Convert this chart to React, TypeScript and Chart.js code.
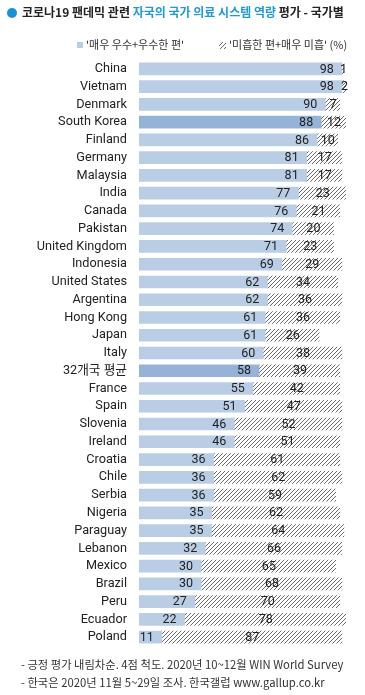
import React, { useEffect, useRef } from "react";
import { Chart, registerables } from "chart.js";
Chart.register(...registerables);

const categories = [
  "China", "Vietnam", "Denmark", "South Korea", "Finland", "Germany", "Malaysia", "India",
  "Canada", "Pakistan", "United Kingdom", "Indonesia", "United States", "Argentina", "Hong Kong",
  "Japan", "Italy", "32개국 평균", "France", "Spain", "Slovenia", "Ireland", "Croatia", "Chile",
  "Serbia", "Nigeria", "Paraguay", "Lebanon", "Mexico", "Brazil", "Peru", "Ecuador", "Poland",
];
const positive = [98, 98, 90, 88, 86, 81, 81, 77, 76, 74, 71, 69, 62, 62, 61, 61, 60, 58, 55, 51, 46, 46, 36, 36, 36, 35, 35, 32, 30, 30, 27, 22, 11];
const negative = [1, 2, 7, 12, 10, 17, 17, 23, 21, 20, 23, 29, 34, 36, 36, 26, 38, 39, 42, 47, 52, 51, 61, 62, 59, 62, 64, 66, 65, 68, 70, 78, 87];
const highlighted = ["South Korea", "32개국 평균"];

const seriesNames = ["'매우 우수+우수한 편'", "'미흡한 편+매우 미흡' (%)"];
const titleParts = ["코로나19 팬데믹 관련 ", "자국의 국가 의료 시스템 역량", " 평가 - 국가별"];
const notes = [
  "- 긍정 평가 내림차순. 4점 척도. 2020년 10~12월 WIN World Survey",
  "- 한국은 2020년 11월 5~29일 조사. 한국갤럽 www.gallup.co.kr",
];

const LIGHT = "#b9cde5";
const DARK = "#95b3d7";
const FONT = "Roboto, 'Noto Sans CJK KR', sans-serif";
const KFONT = "'Noto Sans CJK KR', sans-serif";

function makePattern(): CanvasPattern | string {
  const pc = document.createElement("canvas");
  pc.width = 4;
  pc.height = 4;
  const c = pc.getContext("2d");
  if (!c) return "#ccc";
  c.fillStyle = "#fff";
  c.fillRect(0, 0, 4, 4);
  c.strokeStyle = "#6a6a6a";
  c.lineWidth = 1;
  c.beginPath();
  c.moveTo(0, 4);
  c.lineTo(4, 0);
  c.moveTo(-1, 1);
  c.lineTo(1, -1);
  c.moveTo(3, 5);
  c.lineTo(5, 3);
  c.stroke();
  const p = c.createPattern(pc, "repeat");
  return p || "#ccc";
}

const labelPlugin = {
  id: "valueLabels",
  afterDatasetsDraw(chart: any) {
    const ctx = chart.ctx;
    ctx.save();
    ctx.font = `12.5px ${FONT}`;
    ctx.fillStyle = "#222";
    ctx.textBaseline = "middle";
    chart.data.datasets.forEach((ds: any, di: number) => {
      const meta = chart.getDatasetMeta(di);
      meta.data.forEach((el: any, i: number) => {
        const p = el.getProps(["x", "y", "base"], true);
        const v = ds.data[i];
        if (di === 0) {
          ctx.textAlign = "right";
          ctx.fillText(String(v), p.x - 8, p.y + 0.5);
        } else {
          ctx.textAlign = "center";
          ctx.fillText(String(v), (p.x + p.base) / 2 + 0.5, p.y + 0.5);
        }
      });
    });
    ctx.restore();
  },
};

export default function App() {
  const ref = useRef<HTMLCanvasElement>(null);
  const iconRef = useRef<HTMLCanvasElement>(null);

  useEffect(() => {
    if (!ref.current) return;
    const pattern = makePattern();
    if (iconRef.current) {
      const ic = iconRef.current.getContext("2d");
      if (ic) {
        ic.fillStyle = pattern as any;
        ic.fillRect(0, 0, 7, 7);
      }
    }
    const chart = new Chart(ref.current, {
      type: "bar",
      data: {
        labels: categories,
        datasets: [
          {
            label: seriesNames[0],
            data: positive,
            backgroundColor: categories.map((c) => (highlighted.includes(c) ? DARK : LIGHT)),
            barThickness: 12,
          },
          {
            label: seriesNames[1],
            data: negative,
            backgroundColor: pattern as any,
            barThickness: 12,
          },
        ],
      },
      options: {
        indexAxis: "y",
        responsive: false,
        animation: false,
        devicePixelRatio: 1,
        layout: { padding: { top: 60, bottom: 49, left: 0, right: 19 } },
        scales: {
          x: { stacked: true, min: 0, max: 100, display: false },
          y: {
            stacked: true,
            grid: { display: false, drawTicks: false },
            border: { display: false },
            ticks: {
              autoSkip: false,
              padding: 12,
              color: "#222",
              font: { family: FONT, size: 12.7 },
            },
            afterFit: (s: any) => {
              s.width = 139;
            },
          },
        },
        plugins: {
          legend: { display: false },
          tooltip: { enabled: false },
        },
      },
      plugins: [labelPlugin],
    });
    return () => chart.destroy();
  }, []);

  return (
    <div
      style={{
        position: "absolute",
        left: 0,
        top: 0,
        width: 365,
        height: 695,
        background: "#fff",
        fontFamily: KFONT,
        color: "#222",
      }}
    >
      <canvas ref={ref} width={365} height={695} style={{ position: "absolute", left: 0, top: 0 }} />
      <div style={{ position: "absolute", left: 7, top: 8, width: 10, height: 10, borderRadius: 5, background: "#1592d8" }} />
      <div style={{ position: "absolute", left: 22, top: 3, fontSize: 12, fontWeight: 700, whiteSpace: "nowrap", lineHeight: "18px" }}>
        <span>{titleParts[0]}</span>
        <span style={{ color: "#1f9ad9" }}>{titleParts[1]}</span>
        <span>{titleParts[2]}</span>
      </div>
      <div style={{ position: "absolute", left: 77, top: 42, width: 6, height: 6, background: LIGHT }} />
      <div style={{ position: "absolute", left: 86, top: 36, fontSize: 11, lineHeight: "16px", whiteSpace: "nowrap", color: "#333" }}>
        {seriesNames[0]}
      </div>
      <canvas ref={iconRef} width={7} height={7} style={{ position: "absolute", left: 219, top: 42 }} />
      <div style={{ position: "absolute", left: 229, top: 36, fontSize: 11, lineHeight: "16px", whiteSpace: "nowrap", color: "#333" }}>
        {seriesNames[1]}
      </div>
      <div style={{ position: "absolute", left: 21, top: 655, fontSize: 11.3, lineHeight: "18px", whiteSpace: "nowrap", color: "#333" }}>
        <div>{notes[0]}</div>
        <div>{notes[1]}</div>
      </div>
    </div>
  );
}
